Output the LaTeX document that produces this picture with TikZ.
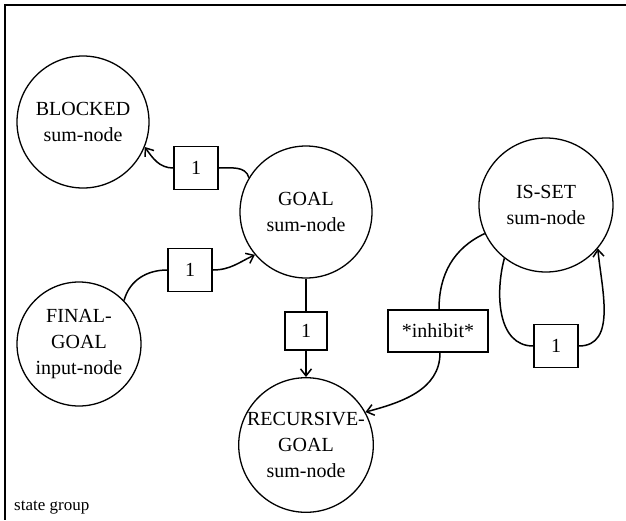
\documentclass[tikz,border=0pt]{standalone}
\usepackage{fontspec}
\setmainfont{Liberation Serif}
\usetikzlibrary{arrows.meta}
\begin{document}
\begin{tikzpicture}[x=1pt,y=-1pt,
  unit/.style={draw,circle,line width=1.3pt,minimum size=132pt,inner sep=0pt,align=center,font=\fontsize{20}{26}\selectfont},
  wbox/.style={draw,line width=1.5pt,minimum width=44pt,minimum height=43pt,inner sep=2pt,font=\fontsize{20}{22}\selectfont},
  conn/.style={line width=1.5pt},
  arr/.style={line width=1.5pt,-{Straight Barb[length=7pt,width=11pt,line width=1.5pt]}}]
\useasboundingbox (0,0) rectangle (626,520);
% frame
\coordinate (ftr) at (626,5);
\coordinate (ftl) at (5,5);
\coordinate (fbl) at (5,520);
\draw[line width=2pt] (ftr) -- (ftl) -- (fbl);
% units
\node[unit] (bl) at (83,122) {BLOCKED\\sum-node};
\node[unit] (g) at (306,212) {GOAL\\sum-node};
\node[unit,minimum size=134pt] (is) at (546,205) {IS-SET\\sum-node};
\node[unit,minimum size=124pt] (fg) at (79,344) {FINAL-\\GOAL\\input-node};
\node[unit,minimum size=124pt] (rg) at (306,445) {RECURSIVE-\\GOAL\\sum-node};
% weight boxes
\node[wbox] (b1) at (196,168) {1};
\node[wbox] (b2) at (190,270) {1};
\node[wbox,minimum width=42pt,minimum height=38pt] (b3) at (306,331) {1};
\node[wbox,minimum width=100pt,minimum height=42pt] (bi) at (438,331) {*inhibit*};
\node[wbox] (b5) at (556,346) {1};
% label
\node[anchor=west,font=\fontsize{17}{20}\selectfont,inner sep=0pt] (sg) at (14,508) {state group};
% connectors
\draw[conn] (b1.east) to[out=0,in=105] (g.149);
\draw[arr] (b1.west) to[out=180,in=-55] (bl.-22);
\draw[conn] (fg.44) to[out=75,in=180] (b2.west);
\draw[arr] (b2.east) to[out=0,in=205] (g.220);
\draw[conn] (g.south) -- (b3.north);
\draw[arr] (b3.south) -- (rg.north);
\draw[conn] (is.205) to[out=205,in=90] ([xshift=1pt]bi.north);
\draw[arr] ([xshift=2pt]bi.south) to[out=-90,in=15] (rg.29);
\draw[conn] (is.232) to[out=255,in=180] (b5.west);
\draw[arr] (b5.east) to[out=0,in=-85] (is.-40);
\end{tikzpicture}
\end{document}
